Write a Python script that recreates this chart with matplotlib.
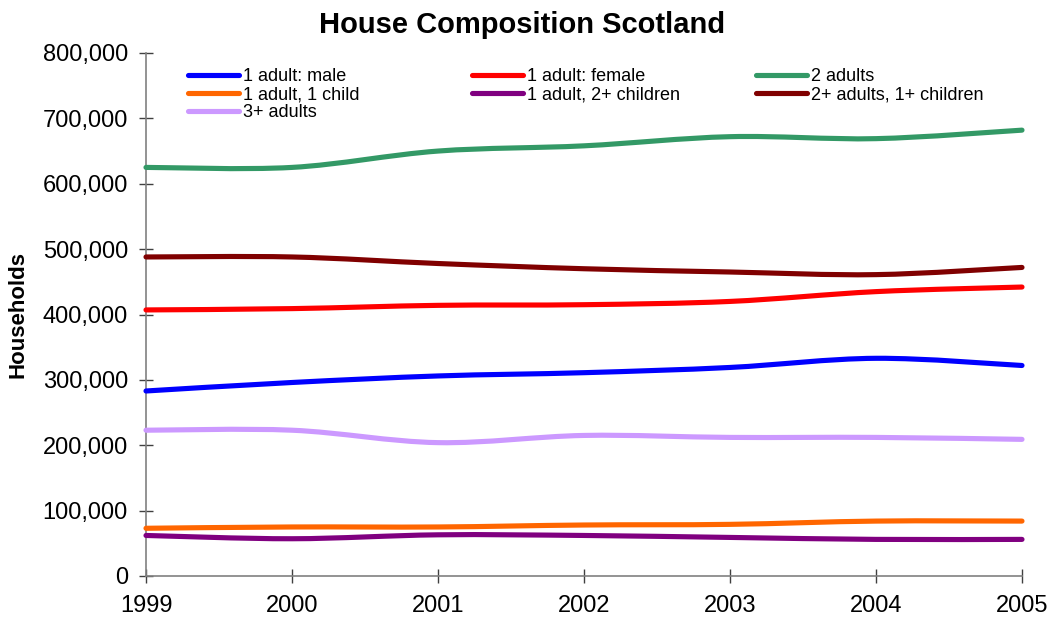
import matplotlib
matplotlib.use("Agg")
import matplotlib.pyplot as plt
from matplotlib.path import Path
from matplotlib.patches import PathPatch
from matplotlib.lines import Line2D
from matplotlib.ticker import FuncFormatter, MultipleLocator

plt.rcParams['font.family'] = ['Liberation Sans', 'DejaVu Sans']

years = [1999, 2000, 2001, 2002, 2003, 2004, 2005]

one_adult_male = [283000, 296000, 306000, 311000, 319000, 333000, 322000]
one_adult_female = [407000, 409000, 414000, 415000, 420000, 435000, 442000]
two_adults = [625000, 625000, 650000, 658000, 672000, 669000, 682000]
one_adult_one_child = [73000, 75000, 75000, 78000, 79000, 84000, 84000]
one_adult_two_children = [62000, 57000, 63000, 62000, 59000, 56000, 56000]
two_adults_children = [488000, 488000, 478000, 470000, 465000, 461000, 472000]
three_adults = [223000, 223000, 204000, 215000, 212000, 212000, 209000]

series = [
    ("1 adult: male", one_adult_male, "#0000FF"),
    ("1 adult: female", one_adult_female, "#FF0000"),
    ("2 adults", two_adults, "#339966"),
    ("1 adult, 1 child", one_adult_one_child, "#FF6600"),
    ("1 adult, 2+ children", one_adult_two_children, "#800080"),
    ("2+ adults, 1+ children", two_adults_children, "#800000"),
    ("3+ adults", three_adults, "#CC99FF"),
]


def smooth_path(xs, ys):
    """Cubic Bezier path through the points (spreadsheet-style smoothing)."""
    n = len(xs)
    verts = [(xs[0], ys[0])]
    codes = [Path.MOVETO]
    for i in range(n - 1):
        i0 = max(i - 1, 0)
        i3 = min(i + 2, n - 1)
        c1 = (xs[i] + (xs[i + 1] - xs[i0]) / 6.0,
              ys[i] + (ys[i + 1] - ys[i0]) / 6.0)
        c2 = (xs[i + 1] - (xs[i3] - xs[i]) / 6.0,
              ys[i + 1] - (ys[i3] - ys[i]) / 6.0)
        verts += [c1, c2, (xs[i + 1], ys[i + 1])]
        codes += [Path.CURVE4] * 3
    return Path(verts, codes)


W, H = 1053, 620
fig = plt.figure(figsize=(W / 100, H / 100), dpi=100)
ax = fig.add_axes([146 / W, 1 - 576 / H, (1022 - 146) / W, (576 - 53) / H])

lw = 3.7
handles = {}
for label, values, color in series:
    patch = PathPatch(smooth_path(years, values), facecolor='none',
                      edgecolor=color, lw=lw, capstyle='round',
                      joinstyle='round', clip_on=False, zorder=3)
    ax.add_patch(patch)
    handles[label] = Line2D([], [], color=color, lw=lw,
                            solid_capstyle='round')

ax.set_xlim(1999, 2005)
ax.set_ylim(0, 800000)
ax.xaxis.set_major_locator(MultipleLocator(1))
ax.yaxis.set_major_locator(MultipleLocator(100000))
ax.yaxis.set_major_formatter(FuncFormatter(lambda v, p: f"{v:,.0f}"))
ax.xaxis.set_major_formatter(FuncFormatter(lambda v, p: f"{int(round(v))}"))

for s in ['top', 'right']:
    ax.spines[s].set_visible(False)
for s in ['left', 'bottom']:
    ax.spines[s].set_color('#808080')
    ax.spines[s].set_linewidth(1.2)

ax.tick_params(axis='both', direction='inout', length=10, width=1.0,
               color='#404040', labelsize=17, labelcolor='black')
ax.tick_params(axis='y', pad=8)
ax.tick_params(axis='x', pad=9)

fig.text(522 / W, 1 - 11 / H, "House Composition Scotland", ha='center',
         va='top', fontsize=21, fontweight='bold')
fig.text(18 / W, 1 - 314 / H, "Households", rotation=90, ha='center',
         va='center', fontsize=16, fontweight='bold')

columns = [
    (188, ["1 adult: male", "1 adult, 1 child", "3+ adults"]),
    (472, ["1 adult: female", "1 adult, 2+ children"]),
    (756, ["2 adults", "2+ adults, 1+ children"]),
]
for x0, labels in columns:
    leg = fig.legend([handles[l] for l in labels], labels, loc='upper left',
                     bbox_to_anchor=(x0 / W, 1 - 68 / H),
                     bbox_transform=fig.transFigure, frameon=False,
                     fontsize=13, handlelength=2.8, handletextpad=0.22,
                     labelspacing=0.06, borderpad=0, borderaxespad=0)

fig.savefig("out.png", dpi=100)
